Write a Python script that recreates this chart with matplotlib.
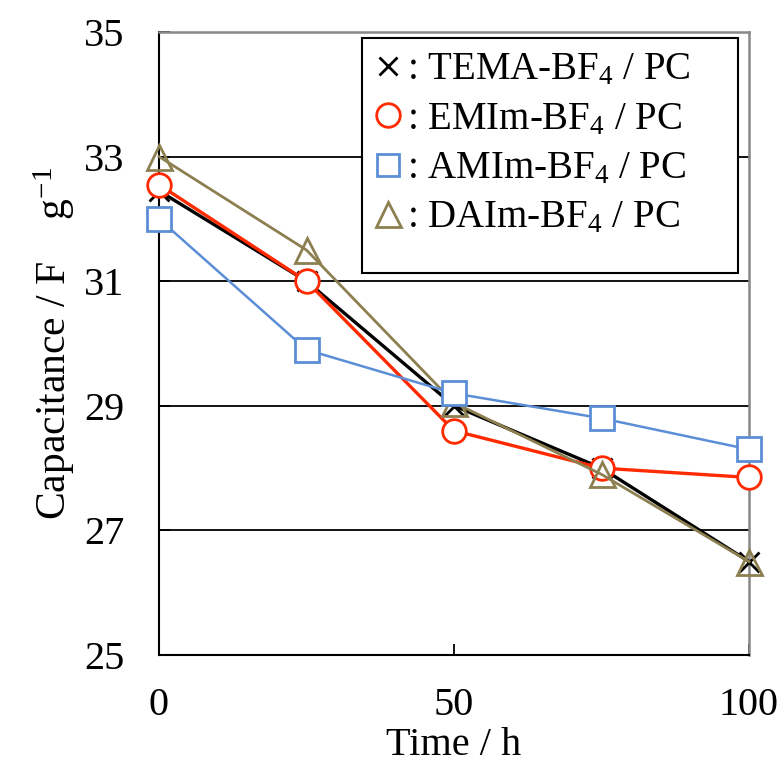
import matplotlib
matplotlib.use("Agg")
import matplotlib.pyplot as plt
from matplotlib.patches import Rectangle
from matplotlib.lines import Line2D

plt.rcParams["font.family"] = ["Liberation Serif", "DejaVu Serif"]
plt.rcParams["mathtext.fontset"] = "custom"
plt.rcParams["mathtext.rm"] = "Liberation Serif"
plt.rcParams["mathtext.it"] = "Liberation Serif:italic"
plt.rcParams["mathtext.bf"] = "Liberation Serif:bold"

# Time points (h) and capacitance (F g^-1) for each electrolyte
time_h = [0, 25, 50, 75, 100]
tema = [32.45, 31.0, 29.0, 28.0, 26.5]
emim = [32.55, 31.0, 28.6, 28.0, 27.85]
amim = [32.0, 29.9, 29.2, 28.8, 28.3]
daim = [33.0, 31.5, 29.05, 27.9, 26.5]

labels = [
    ": TEMA-BF$_4$ / PC",
    ": EMIm-BF$_4$ / PC",
    ": AMIm-BF$_4$ / PC",
    ": DAIm-BF$_4$ / PC",
]
x_ticks = [0, 50, 100]
y_ticks = [25, 27, 29, 31, 33, 35]

c_black = "#000000"
c_red = "#FF2A00"
c_blue = "#5B8ED6"
c_olive = "#8C7F50"

fig = plt.figure(figsize=(7.83, 7.67), dpi=100)
ax = fig.add_axes([159 / 783, 1 - 655 / 767, 590 / 783, 623 / 767])

ax.set_xlim(0, 100)
ax.set_ylim(25, 35)
ax.set_xticks(x_ticks)
ax.set_yticks(y_ticks)

# horizontal reference lines at the inner y ticks
for yv in y_ticks[1:-1]:
    ax.axhline(yv, color="black", lw=1.3, zorder=1)

ax.plot(time_h, tema, color=c_black, lw=2.4, marker="x", ms=15, mew=2.0,
        zorder=3, clip_on=False)
ax.plot(time_h, emim, color=c_red, lw=2.4, marker="o", ms=17, mew=2.0,
        mfc="white", mec=c_red, zorder=4, clip_on=False)
ax.plot(time_h, daim, color=c_olive, lw=2.0, marker="^", ms=18, mew=2.0,
        mfc="none", mec=c_olive, zorder=5, clip_on=False)
ax.plot(time_h, amim, color=c_blue, lw=1.8, marker="s", ms=17, mew=2.0,
        mfc="white", mec=c_blue, zorder=6, clip_on=False)

for side in ("left", "bottom"):
    ax.spines[side].set_color("black")
    ax.spines[side].set_linewidth(1.5)
for side in ("top", "right"):
    ax.spines[side].set_color("#888888")
    ax.spines[side].set_linewidth(1.8)

ax.tick_params(axis="both", direction="in", labelsize=29, width=1.3,
               length=8, colors="black")
ax.tick_params(axis="y", pad=25)
ax.tick_params(axis="x", pad=23)

ax.set_xlabel("Time / h", fontsize=29, labelpad=2)
ax.set_ylabel("Capacitance / F    g$^{\\mathregular{-1}}$", fontsize=30,
              labelpad=5)

# legend frame and entries
ax.add_patch(Rectangle((0.344, 0.613), 0.637, 0.377, transform=ax.transAxes,
                       facecolor="white", edgecolor="black", lw=1.5,
                       zorder=10))
handles = [
    Line2D([], [], ls="none", marker="x", ms=13, mew=2.0, color=c_black),
    Line2D([], [], ls="none", marker="o", ms=17, mew=2.0, mfc="white",
           mec=c_red),
    Line2D([], [], ls="none", marker="s", ms=16, mew=2.0, mfc="white",
           mec=c_blue),
    Line2D([], [], ls="none", marker="^", ms=18, mew=2.0, mfc="none",
           mec=c_olive),
]
leg = ax.legend(handles, labels, loc="upper left",
                bbox_to_anchor=(0.355, 0.975), frameon=False, fontsize=28,
                handlelength=0.8, handletextpad=0.1, labelspacing=0.32,
                borderaxespad=0, borderpad=0.1)
leg.set_zorder(11)

fig.savefig("out.png", dpi=100)
